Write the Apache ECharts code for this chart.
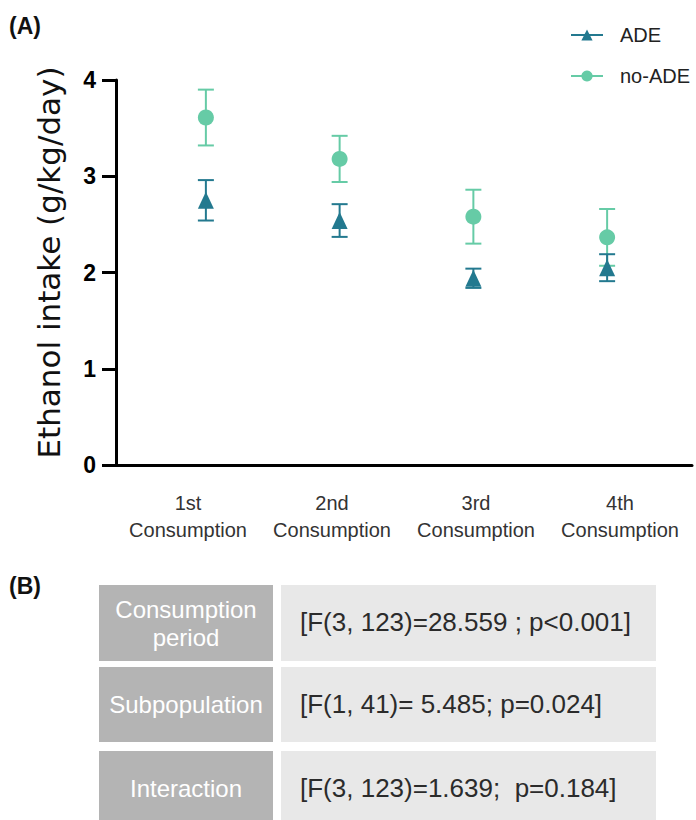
<!DOCTYPE html>
<html>
<head>
<meta charset="utf-8">
<script src="https://cdn.jsdelivr.net/npm/echarts@6/dist/echarts.min.js"></script>
<style>
  html, body { margin: 0; padding: 0; background: #ffffff; }
  #chart { width: 696px; height: 820px; }
</style>
</head>
<body>
<div id="chart"></div>
<script>
// Consumption periods (x categories)
const periods = ['1st\nConsumption', '2nd\nConsumption', '3rd\nConsumption', '4th\nConsumption'];
const yTicks = [0, 1, 2, 3, 4];

// Mean ethanol intake (g/kg/day) and error (SEM) per period
const adeMean   = [2.75, 2.54, 1.94, 2.05];
const adeErr    = [0.21, 0.17, 0.10, 0.14];
const noAdeMean = [3.61, 3.18, 2.58, 2.365];
const noAdeErr  = [0.29, 0.24, 0.28, 0.295];

// Two-way ANOVA summary table
const tableFactors = ['Consumption\nperiod', 'Subpopulation', 'Interaction'];
const tableStats = [
  '[F(3, 123)=28.559 ; p<0.001]',
  '[F(1, 41)= 5.485; p=0.024]',
  '[F(3, 123)=1.639;  p=0.184]'
];

const ADE_COLOR = '#23798f';
const NOADE_COLOR = '#66cba6';

function errData(means, errs) {
  return means.map((m, i) => [i, m - errs[i], m + errs[i]]);
}

function errorBarRenderer(color) {
  return function (params, api) {
    const x = api.value(0);
    const lo = api.coord([x, api.value(1)]);
    const hi = api.coord([x, api.value(2)]);
    const cap = 8;
    const style = { stroke: color, lineWidth: 2, fill: null };
    return {
      type: 'group',
      children: [
        { type: 'line', shape: { x1: hi[0], y1: hi[1], x2: lo[0], y2: lo[1] }, style },
        { type: 'line', shape: { x1: hi[0] - cap, y1: hi[1], x2: hi[0] + cap, y2: hi[1] }, style },
        { type: 'line', shape: { x1: lo[0] - cap, y1: lo[1], x2: lo[0] + cap, y2: lo[1] }, style }
      ]
    };
  };
}

// Table cells and text
const tableGraphics = [];
const rowTops = [585, 667, 751];
const rowH = [76, 75, 75];
tableFactors.forEach((f, i) => {
  const y = rowTops[i];
  const h = rowH[i];
  tableGraphics.push({
    type: 'rect', left: 99, top: y, shape: { width: 174, height: h },
    style: { fill: '#b4b4b4' }, silent: true
  });
  tableGraphics.push({
    type: 'rect', left: 281, top: y, shape: { width: 375, height: h },
    style: { fill: '#e8e8e8' }, silent: true
  });
  tableGraphics.push({
    type: 'text', x: 186, y: y + h / 2,
    style: {
      text: f, fill: '#ffffff', font: '24px "Liberation Sans", Arial, sans-serif',
      textAlign: 'center', textVerticalAlign: 'middle', lineHeight: 28
    }, silent: true
  });
  tableGraphics.push({
    type: 'text', x: 300, y: y + h / 2 - 1,
    style: {
      text: tableStats[i], fill: '#2b2b2b', font: '26px "Liberation Sans", Arial, sans-serif',
      textAlign: 'left', textVerticalAlign: 'middle'
    }, silent: true
  });
});

const chart = echarts.init(document.getElementById('chart'), null, { renderer: 'svg' });

chart.setOption({
  backgroundColor: '#ffffff',
  animation: false,
  legend: {
    orient: 'vertical',
    left: 565,
    top: 20,
    itemWidth: 32,
    itemHeight: 14,
    itemGap: 21,
    data: ['ADE', 'no-ADE'],
    lineStyle: { width: 2, opacity: 1 },
    textStyle: {
      fontFamily: '"Liberation Sans", Arial, sans-serif',
      fontSize: 20,
      color: '#222222',
      padding: [0, 0, 0, 12]
    }
  },
  graphic: [
    {
      type: 'text', left: 9, top: 14,
      style: { text: '(A)', font: 'bold 23px "Liberation Sans", Arial, sans-serif', fill: '#111111' }
    },
    {
      type: 'text', left: 9, top: 574,
      style: { text: '(B)', font: 'bold 23px "Liberation Sans", Arial, sans-serif', fill: '#111111' }
    }
  ].concat(tableGraphics),
  grid: [
    { left: 116, right: 4, top: 80, bottom: 355 },
    { left: 139, right: 22, top: 80, bottom: 355 }
  ],
  xAxis: [
    {
      type: 'category',
      gridIndex: 0,
      data: periods,
      boundaryGap: true,
      axisLine: { show: true, lineStyle: { color: '#000000', width: 3 } },
      axisTick: { show: false },
      axisLabel: {
        interval: 0,
        margin: 24,
        fontFamily: '"Liberation Sans", Arial, sans-serif',
        fontSize: 20,
        lineHeight: 27,
        color: '#333333'
      },
      splitLine: { show: false }
    },
    {
      type: 'category',
      gridIndex: 1,
      data: periods,
      show: false
    }
  ],
  yAxis: [
    {
      type: 'value',
      gridIndex: 0,
      min: yTicks[0],
      max: yTicks[yTicks.length - 1],
      interval: 1,
      name: 'Ethanol intake (g/kg/day)',
      nameLocation: 'middle',
      nameGap: 52,
      nameTextStyle: {
        fontFamily: '"DejaVu Sans", sans-serif',
        fontSize: 31,
        color: '#111111',
        padding: [0, 0, 0, 20]
      },
      axisLine: { show: true, lineStyle: { color: '#000000', width: 3 } },
      axisTick: { show: true, length: 14, lineStyle: { color: '#000000', width: 3 } },
      axisLabel: {
        margin: 20,
        fontFamily: '"Liberation Sans", Arial, sans-serif',
        fontWeight: 'bold',
        fontSize: 23,
        color: '#000000'
      },
      splitLine: { show: false }
    },
    {
      type: 'value',
      gridIndex: 1,
      min: 0,
      max: 4,
      show: false
    }
  ],
  series: [
    {
      name: 'no-ADE SEM',
      type: 'custom',
      xAxisIndex: 1, yAxisIndex: 1,
      z: 2,
      renderItem: errorBarRenderer(NOADE_COLOR),
      data: errData(noAdeMean, noAdeErr),
      silent: true
    },
    {
      name: 'no-ADE',
      type: 'line',
      xAxisIndex: 1, yAxisIndex: 1,
      z: 3,
      data: noAdeMean,
      symbol: 'circle',
      symbolSize: 16,
      itemStyle: { color: NOADE_COLOR },
      lineStyle: { width: 0, color: NOADE_COLOR },
      silent: true
    },
    {
      name: 'ADE SEM',
      type: 'custom',
      xAxisIndex: 1, yAxisIndex: 1,
      z: 4,
      renderItem: errorBarRenderer(ADE_COLOR),
      data: errData(adeMean, adeErr),
      silent: true
    },
    {
      name: 'ADE',
      type: 'line',
      xAxisIndex: 1, yAxisIndex: 1,
      z: 5,
      data: adeMean,
      symbol: 'triangle',
      symbolSize: [16, 17],
      itemStyle: { color: ADE_COLOR },
      lineStyle: { width: 0, color: ADE_COLOR },
      silent: true
    }
  ]
});
</script>
</body>
</html>
